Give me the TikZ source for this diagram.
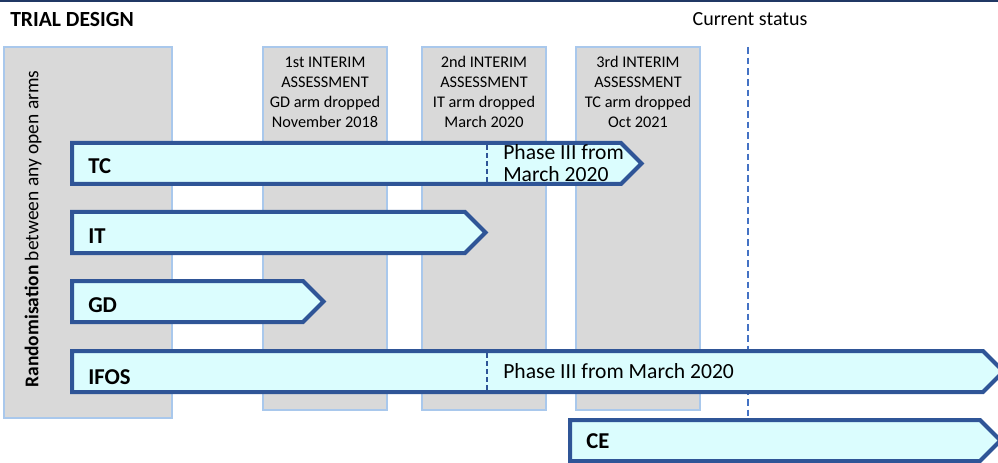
\documentclass[tikz,border=0pt]{standalone}
\usepackage{fontspec}
\setmainfont{Carlito}
\usetikzlibrary{positioning}
\definecolor{boxGray}{HTML}{D9D9D9}
\definecolor{boxEdge}{HTML}{A9C8EC}
\definecolor{armFill}{HTML}{DBFDFE}
\definecolor{armEdge}{HTML}{2F5597}
\definecolor{nowColor}{HTML}{4472C4}
\definecolor{topColor}{HTML}{203864}
\tikzset{
	stage/.style={fill=boxGray, draw=boxEdge, line width=1pt},
	armbar/.style={fill=armFill, draw=armEdge, line width=3pt, line join=miter},
	armlab/.style={anchor=west, inner sep=0, font=\bfseries\fontsize{17}{20}\selectfont},
	phase/.style={anchor=west, inner sep=0, align=left, font=\fontsize{16.2}{16.5}\selectfont},
	stagetext/.style={align=center, inner sep=0, font=\fontsize{12.2}{15}\selectfont},
	phasecut/.style={draw=armEdge, line width=1pt, dash pattern=on 4pt off 2pt}
}
\newcommand{\armpath}[3]{\draw[armbar] (#1,#2) -- (#3,#2) -- ++(20.5,20.5) -- ++(-20.5,20.5) -- (#1,#2+41) -- cycle;}

\begin{document}
\begin{tikzpicture}[x=0.75pt, y=-0.75pt]
	\useasboundingbox (0,0) rectangle (998,463);
	\clip (0,0) rectangle (998,463);
	
	\draw[topColor, line width=2pt] (0,1) -- (998,1);
	\node[anchor=west, inner sep=0, font=\bfseries\fontsize{16.2}{18}\selectfont] (title) at (10,19) {TRIAL DESIGN};
	\node[inner sep=0, font=\fontsize{15}{18}\selectfont] (now) at (750,19) {Current status};
	
	% grey columns
	\draw[stage] (4,47) rectangle (172,418);
	\draw[stage] (263,47) rectangle (387,410);
	\draw[stage] (422,47) rectangle (546,410);
	\draw[stage] (576,47) rectangle (700,410);
	\draw[nowColor, line width=1pt, dash pattern=on 5pt off 3pt] (748,47) -- (748,463);
	
	\node[rotate=90, inner sep=0, font=\fontsize{14.6}{16}\selectfont] (rand) at (33,229) {\textbf{Randomisation} between any open arms};
	\node[stagetext] (ia1) at (325,92) {1st INTERIM\\ASSESSMENT\\GD arm dropped\\November 2018};
	\node[stagetext] (ia2) at (484,92) {2nd INTERIM\\ASSESSMENT\\IT arm dropped\\March 2020};
	\node[stagetext] (ia3) at (638,92) {3rd INTERIM\\ASSESSMENT\\TC arm dropped\\Oct 2021};
	
	% arms
	\armpath{72}{143}{621}
	\armpath{72}{212}{465}
	\armpath{72}{281}{303}
	\armpath{72}{351}{983}
	\armpath{570}{420}{980}
	\draw[phasecut] (487,145) -- (487,182);
	\draw[phasecut] (487,353) -- (487,390);
	
	\node[armlab] (tc) at (88,166) {TC};
	\node[armlab] (it) at (88,236) {IT};
	\node[armlab] (gd) at (88,305) {GD};
	\node[armlab] (ifos) at (88,377) {IFOS};
	\node[armlab] (ce) at (586,441) {CE};
	\node[phase] (tcphase) at (503,163) {Phase III from\\March 2020};
	\node[phase] (ifosphase) at (503,371) {Phase III from March 2020};
\end{tikzpicture}
\end{document}
